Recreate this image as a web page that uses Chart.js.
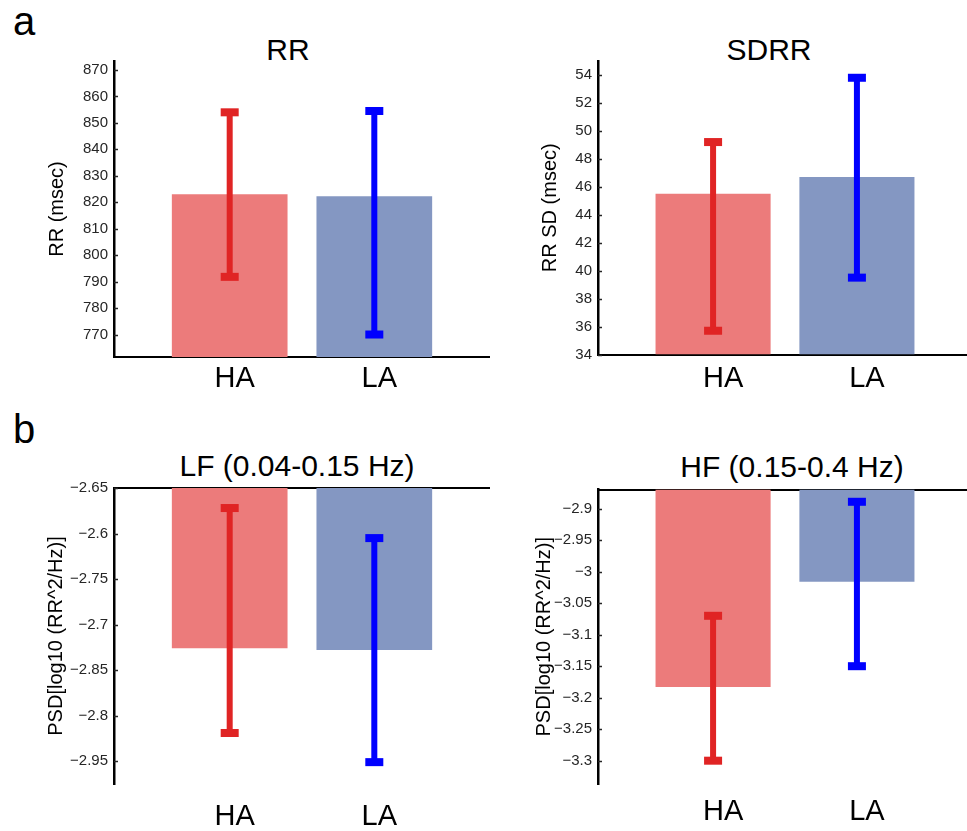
<!DOCTYPE html>
<html lang="en">
<head>
<meta charset="UTF-8">
<title>RR / SDRR / LF / HF</title>
<script src="https://cdn.jsdelivr.net/npm/chart.js@4.4.0/dist/chart.umd.min.js"></script>
<style>
    body { margin: 0; background: #fff; }
    #page {
        position: relative;
        width: 967px;
        height: 831px;
        overflow: hidden;
        font-family: "Liberation Sans", Arial, sans-serif;
        color: #000;
    }
    .panel { position: absolute; }
    .letter { position: absolute; font-size: 40px; line-height: 40px; }
    .ptitle { position: absolute; width: 400px; text-align: center; font-size: 30px; line-height: 30px; }
</style>
</head>
<body>
<div id="page">
    <div class="letter" style="left:13px; top:1px;">a</div>
    <div class="letter" style="left:13px; top:409px;">b</div>

    <div class="ptitle" style="left:88px; top:35px;">RR</div>
    <div class="ptitle" style="left:569px; top:35px;">SDRR</div>
    <div class="ptitle" style="left:97px; top:451px;">LF (0.04-0.15 Hz)</div>
    <div class="ptitle" style="left:592px; top:452px;">HF (0.15-0.4 Hz)</div>

    <div class="panel" style="left:0; top:0; width:490px; height:400px;"><canvas id="rrChart"></canvas></div>
    <div class="panel" style="left:490px; top:0; width:482px; height:400px;"><canvas id="sdrrChart"></canvas></div>
    <div class="panel" style="left:0; top:420px; width:490px; height:411px;"><canvas id="lfChart"></canvas></div>
    <div class="panel" style="left:490px; top:420px; width:482px; height:411px;"><canvas id="hfChart"></canvas></div>
</div>

<script>
    // группы и цвета
    const categories = ['HA', 'LA'];
    const barColors = ['#EC7B7B', '#8497C2'];
    const errColors = ['#E02424', '#0000FF'];

    // RR
    const rrMean = [823.0, 822.3];
    const rrLow = [791.8, 770.0];
    const rrHigh = [854.0, 854.5];
    const rrTicks = [770, 780, 790, 800, 810, 820, 830, 840, 850, 860, 870];
    const rrTickLabels = ['770', '780', '790', '800', '810', '820', '830', '840', '850', '860', '870'];
    const rrLimits = [761.5, 873.4];

    // SDRR
    const sdrrMean = [45.5, 46.7];
    const sdrrLow = [35.7, 39.5];
    const sdrrHigh = [49.2, 53.8];
    const sdrrTicks = [34, 36, 38, 40, 42, 44, 46, 48, 50, 52, 54];
    const sdrrTickLabels = ['34', '36', '38', '40', '42', '44', '46', '48', '50', '52', '54'];
    const sdrrLimits = [34, 55];

    // LF (подписи делений как на исходной картинке)
    const lfMean = [-2.826, -2.828];
    const lfLow = [-2.919, -2.951];
    const lfHigh = [-2.672, -2.705];
    const lfTicks = [-2.95, -2.90, -2.85, -2.80, -2.75, -2.70, -2.65];
    const lfTickLabels = ['\u22122.95', '\u22122.8', '\u22122.85', '\u22122.7', '\u22122.75', '\u22122.6', '\u22122.65'];
    const lfLimits = [-2.975, -2.65];

    // HF
    const hfMean = [-3.183, -3.016];
    const hfLow = [-3.300, -3.150];
    const hfHigh = [-3.070, -2.889];
    const hfTicks = [-3.3, -3.25, -3.2, -3.15, -3.1, -3.05, -3.0, -2.95, -2.9];
    const hfTickLabels = ['\u22123.3', '\u22123.25', '\u22123.2', '\u22123.15', '\u22123.1', '\u22123.05', '\u22123', '\u22122.95', '\u22122.9'];
    const hfLimits = [-3.337, -2.8695];

    Chart.defaults.font.family = '"Liberation Sans", Arial, sans-serif';

    // усы: вертикальная линия + две "шляпки"
    const errorBarPlugin = {
        id: 'errorBars',
        afterDatasetsDraw(chart, args, opts) {
            const ctx = chart.ctx;
            const yScale = chart.scales.y;
            const meta = chart.getDatasetMeta(0);
            ctx.save();
            meta.data.forEach((bar, i) => {
                const x = bar.x;
                const yHi = yScale.getPixelForValue(opts.high[i]);
                const yLo = yScale.getPixelForValue(opts.low[i]);
                ctx.fillStyle = errColors[i];
                ctx.fillRect(x - 3, yHi, 6, yLo - yHi);
                ctx.fillRect(x - 9, yHi - 4, 18, 8);
                ctx.fillRect(x - 9, yLo - 4, 18, 8);
            });
            ctx.restore();
        },
        // короткие засечки внутрь от оси Y (как в MATLAB)
        afterDraw(chart) {
            const ctx = chart.ctx;
            const yScale = chart.scales.y;
            const left = chart.chartArea.left;
            ctx.save();
            ctx.strokeStyle = '#262626';
            ctx.lineWidth = 1.5;
            yScale.ticks.forEach((t) => {
                const y = Math.round(yScale.getPixelForValue(t.value)) + 0.5;
                ctx.beginPath();
                ctx.moveTo(left, y);
                ctx.lineTo(left + 4, y);
                ctx.stroke();
            });
            ctx.restore();
        }
    };

    function makePanel(canvasId, p) {
        const hanging = p.limits[1] < 0;   // отрицательные значения: столбцы от верхней границы
        const scales = {
            x: {
                type: 'linear',
                position: 'bottom',
                min: 0.2,
                max: 2.8,
                offset: false,
                z: 1,
                grid: { display: false, drawTicks: false },
                border: { display: !hanging, color: '#000', width: 2 },
                ticks: {
                    color: '#000',
                    font: { size: 29 },
                    padding: p.xLabelPad,
                    labelOffset: p.xLabelShift,
                    maxRotation: 0,
                    autoSkip: false,
                    callback: (v) => categories[v - 1]
                },
                afterBuildTicks: (s) => { s.ticks = categories.map((c, i) => ({ value: i + 1 })); },
                afterFit: (s) => { s.height = p.xHeight; }
            },
            y: {
                type: 'linear',
                min: p.limits[0],
                max: p.limits[1],
                beginAtZero: false,
                z: 1,
                grid: { display: false, drawTicks: false },
                border: { display: true, color: '#000', width: 2.5 },
                ticks: {
                    color: '#262626',
                    font: { size: 15 },
                    padding: 6,
                    autoSkip: false,
                    callback: (v, i) => p.tickLabels[i]
                },
                afterBuildTicks: (s) => { s.ticks = p.ticks.map(v => ({ value: v })); },
                afterFit: (s) => { s.width = p.yWidth; },
                title: { display: true, text: p.yTitle, color: '#000', font: { size: 20 }, padding: 0 }
            }
        };
        if (hanging) {
            // верхняя линия оси для панелей b
            scales.xTop = {
                type: 'linear',
                position: 'top',
                min: 0.2,
                max: 2.8,
                z: 1,
                grid: { display: false, drawTicks: false },
                border: { display: true, color: '#000', width: 2 },
                ticks: { display: false },
                afterFit: (s) => { s.height = 0; }
            };
        }

        return new Chart(document.getElementById(canvasId), {
            type: 'bar',
            data: {
                datasets: [{
                    data: p.mean.map((v, i) => ({ x: i + 1, y: v })),
                    backgroundColor: barColors,
                    base: hanging ? p.limits[1] : p.limits[0],
                    categoryPercentage: 0.8,
                    barPercentage: 1
                }]
            },
            options: {
                responsive: true,
                maintainAspectRatio: false,
                animation: false,
                events: [],
                layout: { padding: { left: p.padLeft, top: p.padTop, right: 0, bottom: 0 } },
                plugins: {
                    legend: { display: false },
                    tooltip: { enabled: false },
                    errorBars: { low: p.low, high: p.high }
                },
                scales: scales
            },
            plugins: [errorBarPlugin]
        });
    }

    makePanel('rrChart', {
        mean: rrMean, low: rrLow, high: rrHigh,
        ticks: rrTicks, tickLabels: rrTickLabels, limits: rrLimits,
        yTitle: 'RR (msec)',
        padLeft: 45, yWidth: 69, padTop: 61, xHeight: 43, xLabelPad: 4.6, xLabelShift: 5
    });

    makePanel('sdrrChart', {
        mean: sdrrMean, low: sdrrLow, high: sdrrHigh,
        ticks: sdrrTicks, tickLabels: sdrrTickLabels, limits: sdrrLimits,
        yTitle: 'RR SD (msec)',
        padLeft: 48, yWidth: 60, padTop: 61, xHeight: 45.5, xLabelPad: 7, xLabelShift: 10
    });

    makePanel('lfChart', {
        mean: lfMean, low: lfLow, high: lfHigh,
        ticks: lfTicks, tickLabels: lfTickLabels, limits: lfLimits,
        yTitle: 'PSD[log10 (RR^2/Hz)]',
        padLeft: 44, yWidth: 70, padTop: 68, xHeight: 47, xLabelPad: 16, xLabelShift: 5
    });

    makePanel('hfChart', {
        mean: hfMean, low: hfLow, high: hfHigh,
        ticks: hfTicks, tickLabels: hfTickLabels, limits: hfLimits,
        yTitle: 'PSD[log10 (RR^2/Hz)]',
        padLeft: 42, yWidth: 66, padTop: 69.5, xHeight: 47, xLabelPad: 11, xLabelShift: 10
    });
</script>
</body>
</html>
